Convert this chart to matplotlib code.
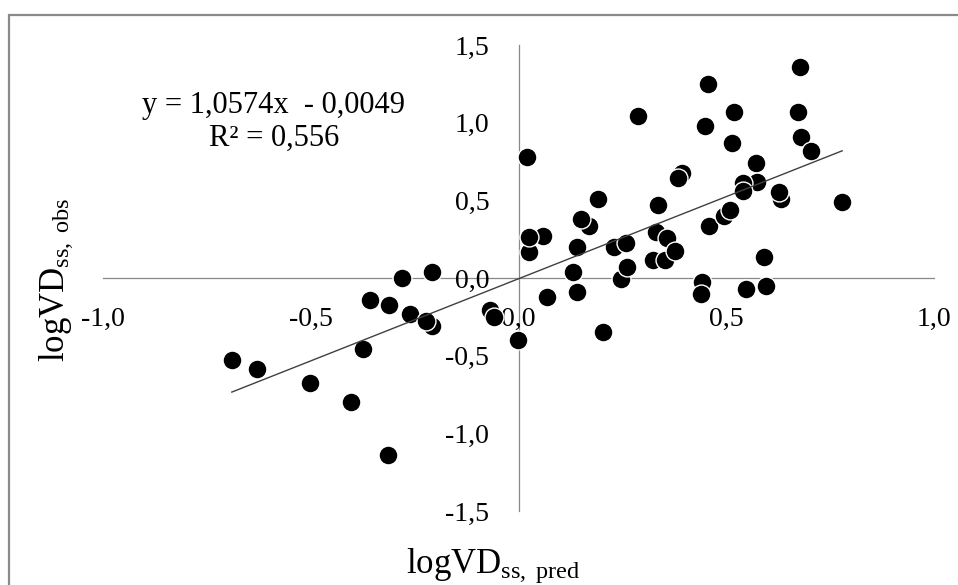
import matplotlib
matplotlib.use("Agg")
import matplotlib.pyplot as plt
from matplotlib.patches import Rectangle
import numpy as np

plt.rcParams['font.family'] = ['Liberation Serif', 'DejaVu Serif']
plt.rcParams['mathtext.fontset'] = 'custom'
plt.rcParams['mathtext.rm'] = 'Liberation Serif'
plt.rcParams['mathtext.it'] = 'Liberation Serif:italic'

log_pred = [0.021, 0.288, 0.456, 0.448, 0.519, 0.515, 0.677, 0.673, 0.681, 0.704,
            0.572, 0.575, 0.541, 0.540, 0.632, 0.627, 0.779, 0.393, 0.385, 0.192,
            0.336, 0.170, 0.150, 0.025, 0.060, 0.026, 0.140, 0.130, 0.230, 0.259,
            0.247, 0.262, 0.332, 0.357, 0.323, 0.353, 0.377, 0.458, 0.494, 0.510,
            0.591, 0.441, 0.439, 0.547, 0.596, 0.068, 0.141, -0.002, 0.204, -0.068,
            -0.060, -0.690, -0.629, -0.502, -0.374, -0.404, -0.315, -0.357, -0.311, -0.262,
            -0.209, -0.222, -0.281, -0.209]
log_obs = [0.78, 1.04, 1.25, 0.98, 1.07, 0.87, 1.36, 1.07, 0.91, 0.82,
           0.74, 0.62, 0.61, 0.56, 0.51, 0.555, 0.487, 0.674, 0.642, 0.51,
           0.47, 0.334, 0.38, 0.167, 0.272, 0.262, 0.197, 0.041, 0.197, 0.228,
           -0.005, 0.073, 0.298, 0.256, 0.116, 0.113, 0.171, 0.335, 0.40, 0.44,
           0.137, -0.024, -0.106, -0.073, -0.051, -0.120, -0.088, -0.399, -0.350, -0.205,
           -0.249, -0.528, -0.586, -0.678, -0.455, -0.801, -1.140, -0.142, -0.174, -0.234,
           -0.307, -0.275, -0.002, 0.038]

slope = 1.0574
intercept = -0.0049
r2 = 0.556

xticks = [-1.0, -0.5, 0.0, 0.5, 1.0]
xtick_labels = ['-1,0', '-0,5', '0,0', '0,5', '1,0']
yticks = [-1.5, -1.0, -0.5, 0.0, 0.5, 1.0, 1.5]
ytick_labels = ['-1,5', '-1,0', '-0,5', '0,0', '0,5', '1,0', '1,5']

fig = plt.figure(figsize=(9.58, 5.85), dpi=100)
ax = fig.add_axes([103/958, 1-511/585, 831/958, 466/585])

ax.scatter(log_pred, log_obs, s=185, c='black', edgecolors='white', linewidths=1.0, zorder=3)

xl = np.array([min(log_pred), max(log_pred)])
ax.plot(xl, slope*xl + intercept, color='#404040', lw=1.0, zorder=4)

ax.set_xlim(-1, 1)
ax.set_ylim(-1.5, 1.5)
ax.spines['left'].set_position(('data', 0))
ax.spines['bottom'].set_position(('data', 0))
ax.spines['top'].set_visible(False)
ax.spines['right'].set_visible(False)
for s in ['left', 'bottom']:
    ax.spines[s].set_color('#888888')
    ax.spines[s].set_linewidth(0.9)
    ax.spines[s].set_zorder(1)
ax.set_xticks(xticks)
ax.set_xticklabels(xtick_labels)
ax.set_yticks(yticks)
ax.set_yticklabels(ytick_labels)
ax.tick_params(length=0, pad=21, labelsize=20, colors='black')
ax.patch.set_alpha(0)

eq = 'y = 1,0574x  - 0,0049\nR² = ' + str(r2).replace('.', ',')
fig.text(274/958, 1-122/585, eq, ha='center', va='center', fontsize=22, linespacing=1.2)

fig.text(493/958, 1-573/585, r'$\mathrm{logVD}_{\mathrm{ss,\ pred}}$', ha='center', va='baseline', fontsize=25)
fig.text(56/958, 1-280/585, r'$\mathrm{logVD}_{\mathrm{ss,\ obs}}$', ha='center', va='center', fontsize=25, rotation=90)

# chart border (only top and left visible in the crop)
fig.add_artist(Rectangle((9/958, -0.5), 2.0, 1.5 - 15/585, transform=fig.transFigure,
                         fill=False, ec='#8a8a8a', lw=1.6))

plt.savefig('out.png', dpi=100)
